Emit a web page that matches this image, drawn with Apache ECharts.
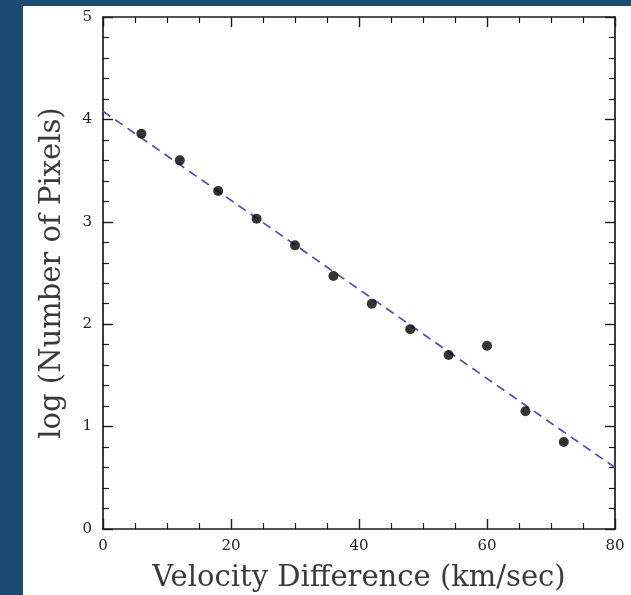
<!DOCTYPE html>
<html>
<head>
<meta charset="utf-8">
<script src="https://cdn.jsdelivr.net/npm/echarts@6/dist/echarts.min.js"></script>
<style>
html,body{margin:0;padding:0;background:#1b4a73;}
#c{width:631px;height:595px;}
</style>
</head>
<body>
<div id="c"></div>
<script>
const velocity = [6, 12, 18, 24, 30, 36, 42, 48, 54, 60, 66, 72];
const logPixels = [3.86, 3.60, 3.30, 3.03, 2.77, 2.47, 2.20, 1.95, 1.70, 1.79, 1.15, 0.85];
const fitX = [0, 80];
const fitY = [4.08, 0.60];
const xTitle = 'Velocity Difference (km/sec)';
const yTitle = 'log (Number of Pixels)';

const chart = echarts.init(document.getElementById('c'), null, {renderer: 'canvas'});
const font = '"DejaVu Serif", "Liberation Serif", serif';
const axisCommon = {
  axisLine: {show: true, onZero: false, lineStyle: {color: '#1a1a1a', width: 1.7}},
  axisTick: {show: true, inside: true, length: 10, lineStyle: {color: '#1a1a1a', width: 1.4}},
  minorTick: {show: true, length: 6, lineStyle: {color: '#1a1a1a', width: 1.2}},
  splitLine: {show: false}
};
chart.setOption({
  backgroundColor: '#1b4a73',
  animation: false,
  graphic: [{type: 'rect', shape: {x: 23, y: 6, width: 608, height: 589}, style: {fill: '#ffffff'}, z: -10}],
  grid: {left: 103, right: 16, top: 17, bottom: 66, containLabel: false, outerBoundsMode: 'none'},
  xAxis: [
    Object.assign({}, axisCommon, {
      type: 'value', min: 0, max: 80, interval: 20, position: 'bottom',
      minorTick: Object.assign({}, axisCommon.minorTick, {splitNumber: 4}),
      axisLabel: {fontFamily: font, fontSize: 15, color: '#222', margin: 10},
      name: xTitle, nameLocation: 'middle', nameGap: 35,
      nameTextStyle: {fontFamily: font, fontSize: 29, color: '#3a3a3a'}
    }),
    Object.assign({}, axisCommon, {
      type: 'value', min: 0, max: 80, interval: 20, position: 'top',
      minorTick: Object.assign({}, axisCommon.minorTick, {splitNumber: 4}),
      axisLabel: {show: false}
    })
  ],
  yAxis: [
    Object.assign({}, axisCommon, {
      type: 'value', min: 0, max: 5, interval: 1, position: 'left',
      minorTick: Object.assign({}, axisCommon.minorTick, {splitNumber: 5}),
      axisLabel: {fontFamily: font, fontSize: 15, color: '#222', margin: 11},
      name: yTitle, nameLocation: 'middle', nameGap: 36,
      nameTextStyle: {fontFamily: font, fontSize: 29, color: '#3a3a3a'}
    }),
    Object.assign({}, axisCommon, {
      type: 'value', min: 0, max: 5, interval: 1, position: 'right',
      minorTick: Object.assign({}, axisCommon.minorTick, {splitNumber: 5}),
      axisLabel: {show: false}
    })
  ],
  series: [
    {
      type: 'line', xAxisIndex: 0, yAxisIndex: 0,
      data: fitX.map((x, i) => [x, fitY[i]]),
      showSymbol: false, symbol: 'none',
      lineStyle: {color: '#5050a4', width: 1.7, type: [9, 6]},
      z: 2
    },
    {
      type: 'scatter', xAxisIndex: 0, yAxisIndex: 0,
      data: velocity.map((x, i) => [x, logPixels[i]]),
      symbol: 'circle', symbolSize: 10,
      itemStyle: {color: '#000'},
      z: 3
    }
  ]
});
</script>
</body>
</html>
